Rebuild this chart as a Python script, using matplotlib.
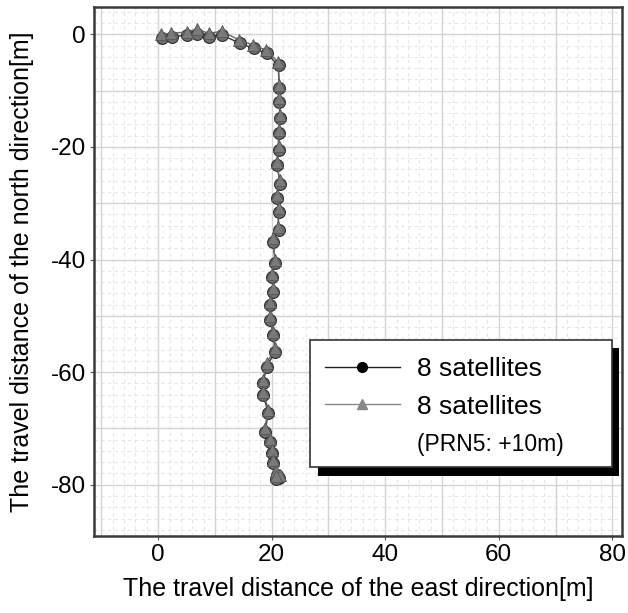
import matplotlib
matplotlib.use("Agg")
import matplotlib.pyplot as plt
from matplotlib.lines import Line2D
from matplotlib.patches import Rectangle
from matplotlib.ticker import MultipleLocator

plt.rcParams['font.family'] = ['Liberation Sans', 'DejaVu Sans']
plt.rcParams['axes.unicode_minus'] = False

# trajectory, 8 satellites
east_8sat = [0.6, 2.4, 5.0, 6.8, 8.9, 11.2, 14.4, 16.8, 19.1, 21.2, 21.3, 21.3,
             21.5, 21.2, 21.2, 20.9, 21.5, 20.9, 21.2, 21.2, 20.3, 20.6, 20.0,
             20.3, 19.7, 19.7, 20.3, 20.6, 19.1, 18.5, 18.5, 19.4, 18.8, 19.7,
             20.0, 20.3, 20.9, 21.3, 20.7]
north_8sat = [-0.6, -0.4, -0.2, 0.1, -0.4, -0.1, -1.6, -2.5, -3.4, -5.5, -9.6,
              -12.0, -14.9, -17.6, -20.5, -23.2, -26.5, -29.1, -31.5, -34.8,
              -36.8, -40.7, -43.1, -45.7, -48.1, -50.7, -53.4, -56.4, -59.0,
              -62.0, -64.1, -67.3, -70.6, -72.4, -74.4, -76.2, -78.2, -78.8, -79.0]

# trajectory, 8 satellites with PRN5 +10m
east_prn5 = [0.5, 2.3, 5.0, 6.8, 8.9, 11.2, 14.3, 16.7, 19.0, 21.1, 21.3, 21.3,
             21.4, 21.2, 21.2, 20.9, 21.4, 20.9, 21.2, 21.1, 20.2, 20.6, 20.0,
             20.3, 19.7, 19.7, 20.2, 20.6, 19.1, 18.5, 18.5, 19.4, 18.8, 19.7,
             20.0, 20.3, 20.8, 21.4, 20.8]
north_prn5 = [0.0, 0.2, 0.4, 0.9, 0.2, 0.5, -1.0, -1.9, -2.8, -4.9, -9.0,
              -11.4, -14.3, -17.0, -19.9, -22.6, -25.9, -28.5, -30.9, -34.2,
              -36.2, -40.1, -42.5, -45.1, -47.5, -50.1, -52.8, -55.8, -58.4,
              -61.4, -63.5, -66.7, -70.0, -71.8, -73.8, -75.6, -77.6, -78.2, -78.4]

xticks = [0, 20, 40, 60, 80]
yticks = [0, -20, -40, -60, -80]

fig = plt.figure(figsize=(6.28, 6.13), dpi=100)
ax = fig.add_axes([94/628, 77/613, 528/628, 529/613])

ax.plot(east_8sat, north_8sat, '-', color='#333333', lw=1.0, marker='o',
        ms=8.5, mfc='#6f6f6f', mec='#2a2a2a', mew=0.8, zorder=3)
ax.plot(east_prn5, north_prn5, '-', color='#666666', lw=1.0, marker='^',
        ms=8.5, mfc='#7a7a7a', mec='#555555', mew=0.6, zorder=4)

ax.set_xlim(-11.3, 81.7)
ax.set_ylim(-89.1, 4.85)
ax.set_xticks(xticks)
ax.set_yticks(yticks)
ax.xaxis.set_minor_locator(MultipleLocator(2))
ax.yaxis.set_minor_locator(MultipleLocator(2))

# grid: solid every 10, dashed every 2
for v in range(-10, 90, 10):
    ax.axvline(v, color='#d4d4d4', lw=1.0, zorder=1)
for v in range(-80, 10, 10):
    ax.axhline(v, color='#d4d4d4', lw=1.0, zorder=1)
ax.grid(which='minor', color='#e6e6e6', lw=0.8, ls=(0, (3, 3)), zorder=0)
ax.set_axisbelow(True)

ax.tick_params(which='major', direction='out', length=3, width=0.8,
               labelsize=17.5, pad=3, color='#555555')
ax.tick_params(which='minor', length=0)
for s in ax.spines.values():
    s.set_color('#3a3a3a')
    s.set_linewidth(1.8)

ax.set_xlabel('The travel distance of the east direction[m]', fontsize=18,
              labelpad=8)
ax.set_ylabel('The travel distance of the north direction[m]', fontsize=18,
              labelpad=12)

# legend box with black offset shadow
shadow = Rectangle((318/628, (613-476)/613), 301/628, 128/613,
                   transform=fig.transFigure, facecolor='black',
                   edgecolor='none', zorder=5, clip_on=False)
box = Rectangle((310/628, (613-467)/613), 302/628, 127/613,
                transform=fig.transFigure, facecolor='white',
                edgecolor='#333333', lw=1.2, zorder=5.5, clip_on=False)
ax.add_patch(shadow)
ax.add_patch(box)

handles = [
    Line2D([], [], color='#222222', lw=1.0, marker='o', ms=7, mfc='black', mec='black'),
    Line2D([], [], color='#888888', lw=1.0, marker='^', ms=7, mfc='#888888', mec='#888888'),
    Line2D([], [], linestyle='none'),
]
labels = ['8 satellites', '8 satellites', '(PRN5: +10m)']
leg = ax.legend(handles, labels, loc='upper left',
                bbox_to_anchor=(325/628, (613-357)/613),
                bbox_transform=fig.transFigure,
                fontsize=19, frameon=False, handlelength=2.84,
                handletextpad=0.64, labelspacing=0.52, borderpad=0,
                borderaxespad=0)
leg.get_texts()[2].set_fontsize(16.5)
leg.set_zorder(6)

fig.savefig('out.png', dpi=100)
